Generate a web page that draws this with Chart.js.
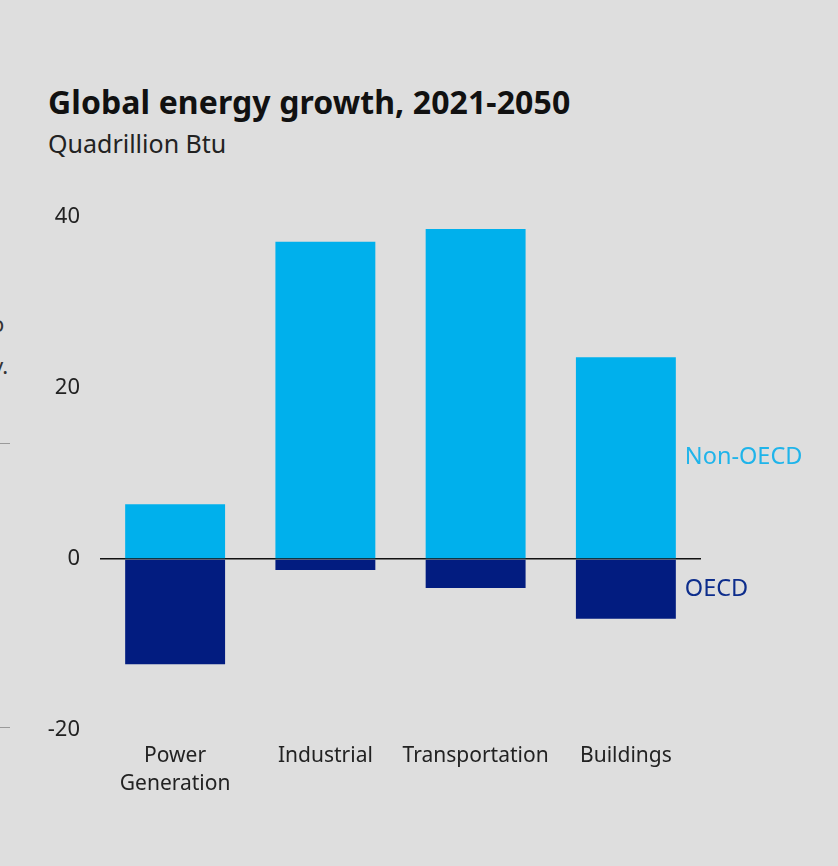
<!DOCTYPE html>
<html>
<head>
<meta charset="utf-8">
<script src="https://cdn.jsdelivr.net/npm/chart.js@4/dist/chart.umd.min.js"></script>
<style>
    html, body { margin: 0; padding: 0; background: #dedede; overflow: hidden; }
    body { width: 838px; height: 866px; position: relative; font-family: "Noto Sans", sans-serif; }
    #title { position: absolute; left: 48px; top: 80px; font-size: 32px; font-weight: 700; color: #111; letter-spacing: 0.1px; }
    #subtitle { position: absolute; left: 48px; top: 126px; font-size: 25px; color: #222; }
    .edge { position: absolute; left: -6px; font-size: 22px; color: #333; }
    .edge-line { position: absolute; left: 0; width: 10px; height: 1px; background: #9a9a9a; }
    #chart-wrap { position: absolute; left: 0; top: 0; width: 838px; height: 866px; }
</style>
</head>
<body>
<div id="title">Global energy growth, 2021-2050</div>
<div id="subtitle">Quadrillion Btu</div>
<div class="edge" style="top:308px; left:-9px;">o</div>
<div class="edge" style="top:350px; left:-8px;">y.</div>
<div class="edge-line" style="top:443px;"></div>
<div class="edge-line" style="top:727px;"></div>
<div id="chart-wrap"><canvas id="energyChart" width="838" height="866"></canvas></div>
<script>
const sectors = [["Power", "Generation"], "Industrial", "Transportation", "Buildings"];
const nonOecdGrowth = [6.4, 37.1, 38.6, 23.6];
const oecdGrowth = [-12.3, -1.3, -3.4, -7.0];
const yTicks = [40, 20, 0, -20];

const NON_OECD_COLOR = "#00b0ec";
const OECD_COLOR = "#021c80";
const TEXT_COLOR = "#222222";

// series names drawn next to the last bar, like the original slide
const seriesLabels = {
    id: "seriesLabels",
    afterDatasetsDraw(chart) {
        const ctx = chart.ctx;
        ctx.save();
        ctx.font = "23.5px 'Noto Sans', sans-serif";
        ctx.textBaseline = "middle";
        ctx.textAlign = "left";
        chart.data.datasets.forEach((ds, i) => {
            const meta = chart.getDatasetMeta(i);
            const bar = meta.data[meta.data.length - 1];
            const x = bar.x + bar.width / 2 + 9;
            const y = (bar.y + bar.base) / 2;
            ctx.fillStyle = ds.labelColor;
            ctx.fillText(ds.label, x, y);
        });
        ctx.restore();
    }
};

new Chart(document.getElementById("energyChart"), {
    type: "bar",
    data: {
        labels: sectors,
        datasets: [
            { label: "Non-OECD", data: nonOecdGrowth, backgroundColor: NON_OECD_COLOR, labelColor: "#1fb4ea", stack: "s" },
            { label: "OECD", data: oecdGrowth, backgroundColor: OECD_COLOR, labelColor: "#0d2d8c", stack: "s" }
        ]
    },
    plugins: [seriesLabels],
    options: {
        responsive: false,
        animation: false,
        layout: { padding: { left: 0, right: 137, top: 217, bottom: 0 } },
        categoryPercentage: 1,
        barPercentage: 0.665,
        plugins: { legend: { display: false }, tooltip: { enabled: false } },
        scales: {
            x: {
                stacked: true,
                grid: { display: false },
                border: { display: false },
                ticks: {
                    color: TEXT_COLOR,
                    font: { family: "'Noto Sans', sans-serif", size: 21, lineHeight: 1.32 },
                    padding: 4,
                    maxRotation: 0,
                    autoSkip: false
                },
                afterFit: scale => { scale.height = 136; }
            },
            y: {
                stacked: true,
                min: -20,
                max: 40,
                z: 1,
                afterBuildTicks: scale => { scale.ticks = yTicks.map(v => ({ value: v })); },
                grid: {
                    drawTicks: false,
                    color: c => c.tick && c.tick.value === 0 ? "#111111" : "rgba(0,0,0,0)",
                    lineWidth: 1.5
                },
                border: { display: false },
                ticks: { color: TEXT_COLOR, font: { family: "'Noto Sans', sans-serif", size: 22 }, padding: 20 },
                afterFit: scale => { scale.width = 100; }
            }
        }
    }
});
</script>
</body>
</html>
